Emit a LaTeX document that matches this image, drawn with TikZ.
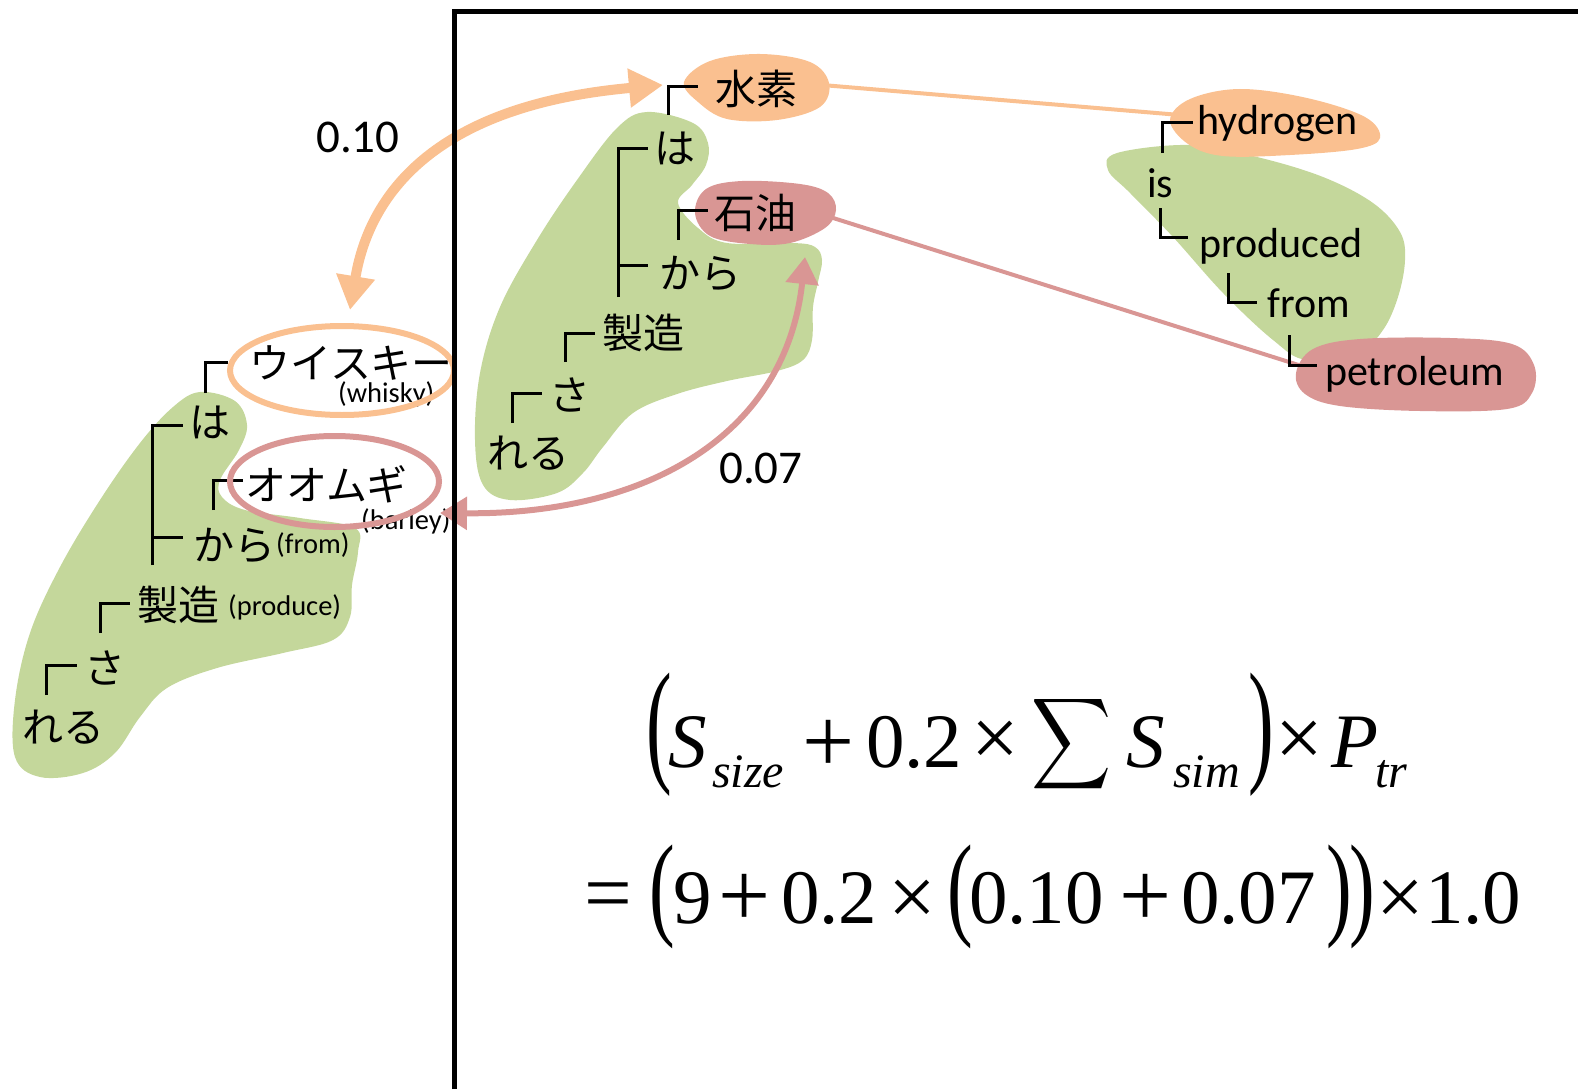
\documentclass[tikz,border=0pt]{standalone}
\usepackage{fontspec}
\setmainfont{Carlito}
\newfontfamily\jpfam{Noto Sans CJK JP}
\newfontfamily\tmsfam{Liberation Serif}
\usetikzlibrary{arrows.meta}
\definecolor{blobgreen}{HTML}{C4D79B}
\definecolor{bloborange}{HTML}{FAC090}
\definecolor{blobpink}{HTML}{D99694}
\tikzset{
  jp/.style={font=\jpfam\fontsize{41}{49}\selectfont, anchor=base west, inner sep=0pt},
  en/.style={font=\fontsize{42}{50}\selectfont, anchor=base west, inner sep=0pt},
  sm/.style={font=\fontsize{28.5}{34}\selectfont, anchor=base west, inner sep=0pt},
  lab/.style={font=\fontsize{47}{56}\selectfont, anchor=base west, inner sep=0pt},
  fm/.style={font=\tmsfam\fontsize{77}{90}\selectfont, anchor=base west, inner sep=0pt},
  fmi/.style={font=\tmsfam\itshape\fontsize{77}{90}\selectfont, anchor=base west, inner sep=0pt},
  fsub/.style={font=\tmsfam\itshape\fontsize{48}{56}\selectfont, anchor=base west, inner sep=0pt},
  fparen/.style={font=\tmsfam\fontsize{77}{90}\selectfont, anchor=center, inner sep=0pt},
  fop/.style={font=\tmsfam\fontsize{77}{90}\selectfont, anchor=center, inner sep=0pt},
  treeline/.style={line width=3pt, black},
  greenblob/.style={fill=blobgreen, draw=none},
  orangeblob/.style={fill=bloborange, draw=none},
  pinkblob/.style={fill=blobpink, draw=none},
  orangelink/.style={draw=bloborange, line width=4pt},
  pinklink/.style={draw=blobpink, line width=4pt},
  orangearrow/.style={draw=bloborange, line width=10pt,
     {Triangle[length=34pt,width=37pt]}-{Triangle[length=34pt,width=37pt]}},
  pinkarrow/.style={draw=blobpink, line width=6pt,
     {Triangle[length=27pt,width=32pt]}-{Triangle[length=27pt,width=32pt]}},
  frameline/.style={line width=5pt, black},
}
\begin{document}
\begin{tikzpicture}[x=1pt,y=-1pt]
\useasboundingbox (0,0) rectangle (1578,1089);

% ---------- green blobs ----------
\fill[greenblob] plot[smooth cycle, tension=0.6] coordinates {
  (200,392) (235,401) (247,425) (239,450) (220,480) (222,497) (245,510) (300,518)
  (355,528) (358,552) (352,585) (350,617) (333,640) (283,653) (217,668) (167,688)
  (140,717) (115,753) (83,773) (40,777) (15,757) (15,700) (30,633) (60,567)
  (100,500) (140,443) (173,407)};
\fill[greenblob] plot[smooth cycle, tension=0.6] coordinates {
  (647,112) (693,123) (708,143) (706,165) (692,185) (678,203) (698,228) (727,243)
  (793,243) (815,247) (822,260) (818,282) (813,307) (812,340) (803,360) (777,371)
  (727,381) (677,394) (633,413) (603,447) (583,473) (557,493) (510,500) (483,485)
  (475,440) (480,373) (500,307) (537,240) (577,180) (617,128)};
\fill[greenblob] plot[smooth cycle, tension=0.6] coordinates {
  (1117,153) (1190,145) (1257,157) (1323,177) (1373,203) (1400,232) (1405,260)
  (1398,297) (1383,330) (1360,350) (1307,360) (1273,340) (1223,293) (1173,237)
  (1130,193) (1108,170)};

% ---------- thin links ----------
\coordinate (suisoR) at (822,85);
\coordinate (hydL) at (1180,115);
\coordinate (sekiyuR) at (830,217);
\coordinate (petL) at (1308,368);
\draw[orangelink] (suisoR) -- (hydL);
\draw[pinklink] (sekiyuR) -- (petL);

% ---------- coloured blobs ----------
\fill[orangeblob] plot[smooth cycle, tension=0.6] coordinates {
  (684,82) (710,61) (760,54) (810,62) (829,83) (820,107) (777,120) (727,119) (698,102)};
\fill[orangeblob] plot[smooth cycle, tension=0.6] coordinates {
  (1170,120) (1190,99) (1240,89) (1307,98) (1365,117) (1380,138) (1357,149)
  (1290,155) (1223,156) (1188,144)};
\fill[pinkblob] plot[smooth cycle, tension=0.6] coordinates {
  (695,213) (706,189) (742,181) (800,184) (828,193) (836,210) (825,228) (790,243)
  (750,244) (710,236)};
\fill[pinkblob] plot[smooth cycle, tension=0.6] coordinates {
  (1296,373) (1313,349) (1360,339) (1450,338) (1512,344) (1534,365) (1532,393)
  (1507,409) (1420,411) (1340,406) (1305,394)};

% ---------- tree brackets ----------
\draw[treeline] (205,393) -- (205,362) -- (228,362);
\draw[treeline] (152,565) -- (152,425) -- (183,425);
\draw[treeline] (152,537) -- (183,537);
\draw[treeline] (213,510) -- (213,480) -- (243,480);
\draw[treeline] (100,633) -- (100,603) -- (130,603);
\draw[treeline] (46,695) -- (46,665) -- (77,665);

\draw[treeline] (668,115) -- (668,87) -- (698,87);
\draw[treeline] (618,297) -- (618,148) -- (648,148);
\draw[treeline] (618,265) -- (648,265);
\draw[treeline] (678,240) -- (678,210) -- (708,210);
\draw[treeline] (565,362) -- (565,333) -- (595,333);
\draw[treeline] (512,423) -- (512,393) -- (542,393);

\draw[treeline] (1162,153) -- (1162,123) -- (1193,123);
\draw[treeline] (1160,208) -- (1160,237) -- (1188,237);
\draw[treeline] (1228,273) -- (1228,302) -- (1257,302);
\draw[treeline] (1289,335) -- (1289,365) -- (1317,365);

% ---------- texts ----------
\node[jp] (Lw) at (249,378) {ウイスキー};
\node[jp] (Lha) at (189,437) {は};
\node[jp] (Loo) at (245,500) {オオムギ};
\node[jp] (Lkara) at (193,560) {から};
\node[jp] (Lsei) at (137,620) {製造};
\node[jp] (Lsa) at (84,683) {さ};
\node[jp] (Lreru) at (22,742) {れる};
\node[sm] (Lwhisky) at (338,402) {(whisky)};
\node[sm] (Lbarley) at (361,529) {(barley)};
\node[sm] (Lfrom) at (276,553) {(from)};
\node[sm] (Lproduce) at (228,615) {(produce)};

\node[jp] (Msuiso) at (715,105) {水素};
\node[jp] (Mha) at (654,163) {は};
\node[jp] (Msekiyu) at (714,228) {石油};
\node[jp] (Mkara) at (659,288) {から};
\node[jp] (Msei) at (602,348) {製造};
\node[jp] (Msa) at (549,410) {さ};
\node[jp] (Mreru) at (487,468) {れる};

\node[en] (Rh) at (1197,135) {hydrogen};
\node[en] (Ris) at (1147,197) {is};
\node[en] (Rprod) at (1199,257) {produced};
\node[en] (Rfrom) at (1267,317) {from};
\node[en] (Rpet) at (1325,385) {petroleum};

\node[lab] (v10) at (316,152) {0.10};
\node[lab] (v07) at (719,483) {0.07};

% ---------- ellipses ----------
\draw[draw=bloborange, line width=6pt] (342,370.5) ellipse [x radius=112pt, y radius=44.5pt];
\draw[draw=blobpink, line width=6pt] (334.5,481.5) ellipse [x radius=104.5pt, y radius=45.5pt];

% ---------- similarity arrows ----------
\coordinate (whiskyTop) at (350,310);
\coordinate (suisoL) at (663,85);
\coordinate (barleyR) at (440,513);
\coordinate (sekiyuB) at (805,257);
\draw[orangearrow] (whiskyTop) .. controls (370,190) and (440,105) .. (suisoL);
\draw[pinkarrow] (barleyR) .. controls (640,515) and (785,440) .. (sekiyuB);

% ---------- formula line 1 ----------
\node[fparen] (p1) at (659,734.5) {\scalebox{1}[1.77]{(}};
\node[fmi] (f1) at (668,767) {S};
\node[fsub] (f2) at (712,787) {size};
\node[fop] (f3) at (829,746) {\scalebox{1.2}{+}};
\node[fm] (f4) at (866,767) {0.2};
\node[fop] (f5) at (995.5,744) {\scalebox{1.1}{×}};
\node[anchor=center, inner sep=0pt] (f6) at (1072,744) {\resizebox*{80pt}{102pt}{$\displaystyle\sum$}};
\node[fmi] (f7) at (1126,767) {S};
\node[fsub] (f8) at (1173,787) {sim};
\node[fparen] (p2) at (1261,734.5) {\scalebox{1}[1.77]{)}};
\node[fop] (f9) at (1299.5,744) {\scalebox{1.1}{×}};
\node[fmi] (f10) at (1331,767) {P};
\node[fsub] (f11) at (1375,787) {tr};

% ---------- formula line 2 ----------
\node[fop] (g1) at (608.5,902) {\scalebox{1.1}{=}};
\node[fparen] (p3) at (662.5,896.5) {\scalebox{1}[1.49]{(}};
\node[fm] (g2) at (673,923) {9};
\node[fop] (g3) at (744.5,900) {\scalebox{1.2}{+}};
\node[fm] (g4) at (781,923) {0.2};
\node[fop] (g5) at (912.5,903) {\scalebox{1.1}{×}};
\node[fparen] (p4) at (960,896.5) {\scalebox{1}[1.49]{(}};
\node[fm] (g6) at (969,923) {0.10};
\node[fop] (g7) at (1146,900) {\scalebox{1.2}{+}};
\node[fm] (g8) at (1181,923) {0.07};
\node[fparen] (p5) at (1339,896.5) {\scalebox{1}[1.49]{)}};
\node[fparen] (p6) at (1362,896.5) {\scalebox{1}[1.49]{)}};
\node[fop] (g9) at (1400.5,903) {\scalebox{1.1}{×}};
\node[fm] (g10) at (1425,923) {1.0};

% ---------- frame ----------
\coordinate (frameBot) at (454,1089);
\coordinate (frameCorner) at (454,11.5);
\coordinate (frameRight) at (1578,11.5);
\draw[frameline] (frameBot) -- (frameCorner) -- (frameRight);
\end{tikzpicture}
\end{document}
